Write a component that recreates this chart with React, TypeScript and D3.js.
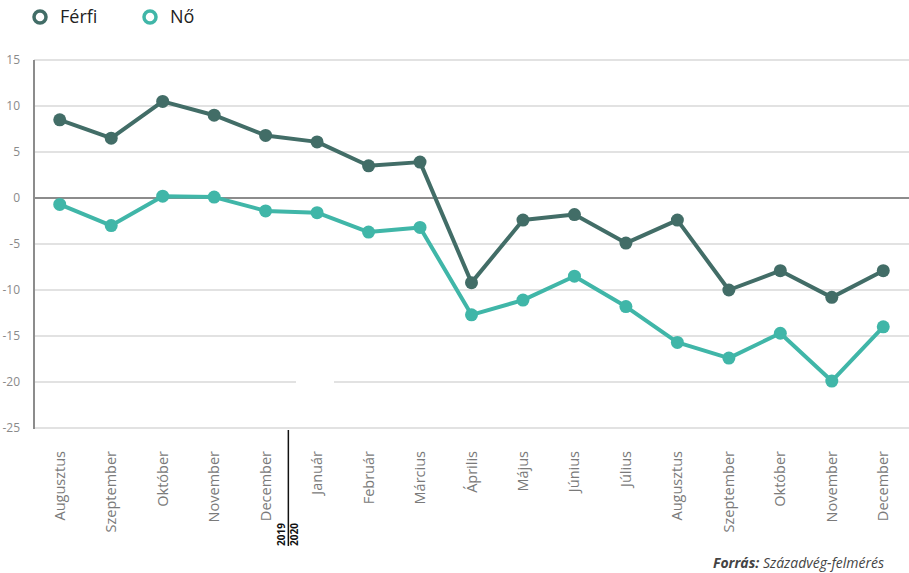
import React from "react";
import * as d3 from "d3";

const months = ["Augusztus","Szeptember","Október","November","December","Január","Február","Március","Április","Május","Június","Július","Augusztus","Szeptember","Október","November","December"];
const ferfi = [8.5, 6.5, 10.5, 9.0, 6.8, 6.1, 3.5, 3.9, -9.2, -2.4, -1.8, -4.9, -2.4, -10.0, -7.9, -10.8, -7.9];
const no = [-0.7, -3.0, 0.2, 0.1, -1.4, -1.6, -3.7, -3.2, -12.7, -11.1, -8.5, -11.8, -15.7, -17.4, -14.7, -19.9, -14.0];
const yTicks = [15, 10, 5, 0, -5, -10, -15, -20, -25];
const seriesNames = ["Férfi", "Nő"];
const colors = ["#426d67", "#40b6a8"];

const W = 909, H = 573;
const left = 34, right = 909, top = 60, bottom = 428;
const font = "'Open Sans', 'Noto Sans', sans-serif";

export default function App() {
  const ids = months.map((_, i) => String(i));
  const x = d3.scaleBand<string>().domain(ids).range([left, right]).padding(0);
  const y = d3.scaleLinear().domain([-25, 15]).range([bottom, top]);
  const cx = (i: number) => (x(String(i)) as number) + x.bandwidth() / 2;
  const line = d3.line<number>().x((_, i) => cx(i)).y((d) => y(d));
  const series = [ferfi, no];
  const divX = (cx(4) + cx(5)) / 2 - 3;

  return (
    <div style={{ position: "absolute", left: 0, top: 0 }}>
      <svg width={W} height={H} style={{ display: "block", background: "#fff" }}>
        {yTicks.map((t) => (
          <g key={t}>
            {t !== 0 && (
              <line x1={left} x2={right} y1={y(t)} y2={y(t)} stroke="#e2e2e2" strokeWidth={2} />
            )}
            <text x={20} y={y(t)} dy="0.35em" textAnchor="end" fontFamily={font} fontSize={12} fill="#8a8a8a">{t}</text>
          </g>
        ))}
        <rect x={296} y={y(-20) - 3} width={38} height={6} fill="#fff" />
        <line x1={left} x2={right} y1={y(0)} y2={y(0)} stroke="#8c8c8c" strokeWidth={2} />
        <line x1={left} x2={left} y1={top} y2={bottom + 1} stroke="#8c8c8c" strokeWidth={2} />

        {series.map((s, si) => (
          <g key={si}>
            <path d={line(s) as string} fill="none" stroke={colors[si]} strokeWidth={4} strokeLinejoin="round" />
            {s.map((v, i) => (
              <circle key={i} cx={cx(i)} cy={y(v)} r={6.5} fill={colors[si]} />
            ))}
          </g>
        ))}

        {months.map((m, i) => (
          <text key={i} transform={`translate(${cx(i) + 5},451) rotate(-90)`} textAnchor="end" fontFamily={font} fontSize={14.5} fill="#7a7a7a">{m}</text>
        ))}

        <line x1={divX} x2={divX} y1={430} y2={546} stroke="#111" strokeWidth={1.5} />
        <text transform={`translate(${divX - 3},546) rotate(-90)`} fontFamily={font} fontSize={10} fontWeight="bold" fill="#111">2019</text>
        <text transform={`translate(${divX + 10},546) rotate(-90)`} fontFamily={font} fontSize={10} fontWeight="bold" fill="#111">2020</text>

        {seriesNames.map((n, i) => (
          <g key={n} transform={`translate(${40 + i * 110},17)`}>
            <circle r={6} fill="#fff" stroke={colors[i]} strokeWidth={3.5} />
            <text x={20} dy="0.35em" fontFamily={font} fontSize={18} fill="#222">{n}</text>
          </g>
        ))}

        <text x={884} y={568} textAnchor="end" fontFamily={font} fontSize={14} fontStyle="italic" fill="#444">
          <tspan fontWeight="bold">Forrás:</tspan> Századvég-felmérés
        </text>
      </svg>
    </div>
  );
}
